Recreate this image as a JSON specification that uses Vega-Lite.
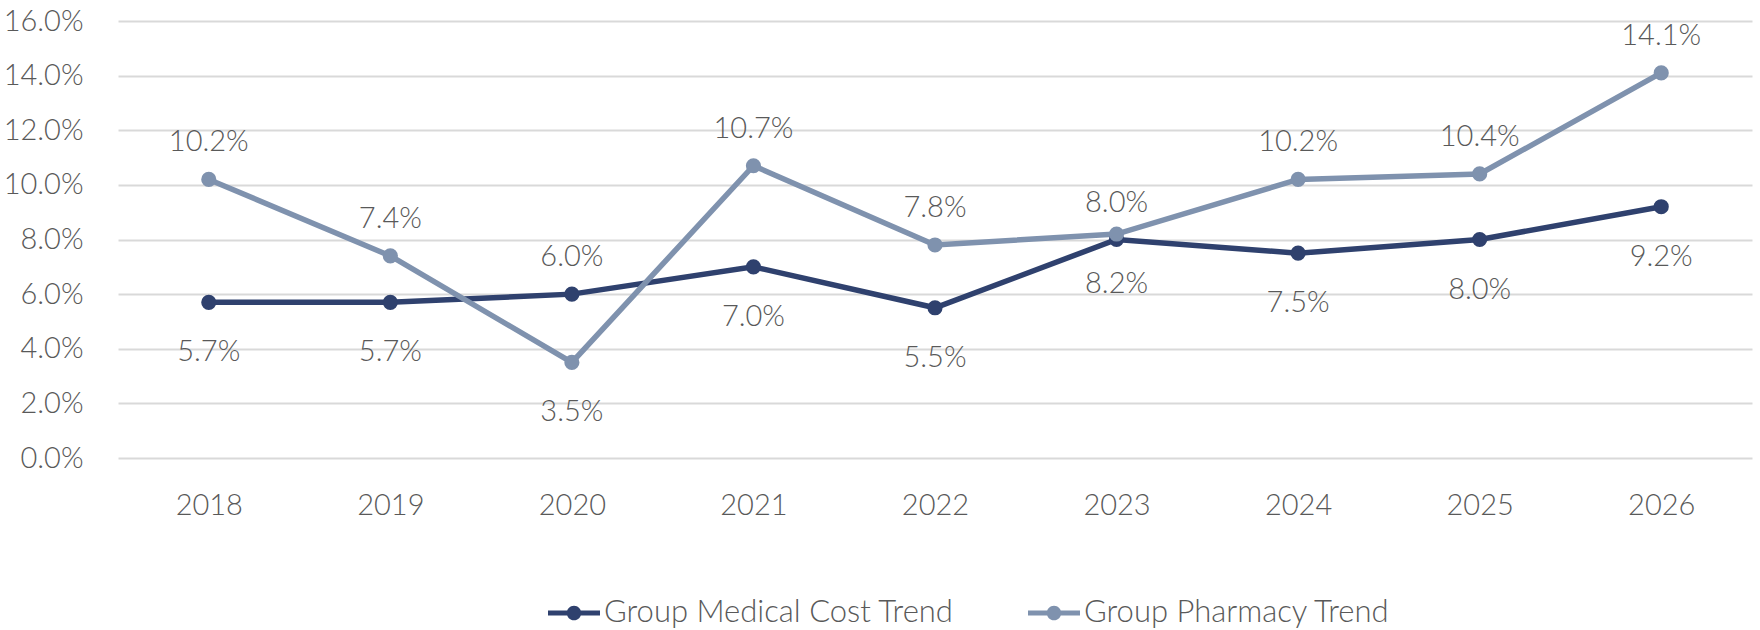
{
  "$schema": "https://vega.github.io/schema/vega-lite/v6.json",
  "width": 1634,
  "height": 437,
  "autosize": {"type": "none"},
  "padding": {"left": 118, "top": 21, "right": 8, "bottom": 172},
  "background": "white",
  "config": {
    "view": {"stroke": null},
    "font": "Lato",
    "axis": {"labelFont": "Lato", "labelFontWeight": 300, "labelColor": "#595959", "labelFontSize": 29},
    "legend": {"labelFont": "Lato", "labelFontWeight": 300}
  },
  "data": {
    "values": [
      {"year": "2018", "series": "Group Medical Cost Trend", "value": 0.057},
      {"year": "2019", "series": "Group Medical Cost Trend", "value": 0.057},
      {"year": "2020", "series": "Group Medical Cost Trend", "value": 0.060},
      {"year": "2021", "series": "Group Medical Cost Trend", "value": 0.070},
      {"year": "2022", "series": "Group Medical Cost Trend", "value": 0.055},
      {"year": "2023", "series": "Group Medical Cost Trend", "value": 0.080},
      {"year": "2024", "series": "Group Medical Cost Trend", "value": 0.075},
      {"year": "2025", "series": "Group Medical Cost Trend", "value": 0.080},
      {"year": "2026", "series": "Group Medical Cost Trend", "value": 0.092},
      {"year": "2018", "series": "Group Pharmacy Trend", "value": 0.102},
      {"year": "2019", "series": "Group Pharmacy Trend", "value": 0.074},
      {"year": "2020", "series": "Group Pharmacy Trend", "value": 0.035},
      {"year": "2021", "series": "Group Pharmacy Trend", "value": 0.107},
      {"year": "2022", "series": "Group Pharmacy Trend", "value": 0.078},
      {"year": "2023", "series": "Group Pharmacy Trend", "value": 0.082},
      {"year": "2024", "series": "Group Pharmacy Trend", "value": 0.102},
      {"year": "2025", "series": "Group Pharmacy Trend", "value": 0.104},
      {"year": "2026", "series": "Group Pharmacy Trend", "value": 0.141}
    ]
  },
  "encoding": {
    "x": {
      "field": "year", "type": "ordinal",
      "scale": {"type": "point", "padding": 0.5},
      "axis": {"title": null, "labelAngle": 0, "domain": false, "ticks": false, "grid": false, "labelPadding": 33}
    },
    "y": {
      "field": "value", "type": "quantitative",
      "scale": {"domain": [0, 0.16], "nice": false},
      "axis": {"title": null, "format": ".1%", "values": [0, 0.02, 0.04, 0.06, 0.08, 0.1, 0.12, 0.14, 0.16], "domain": false, "ticks": false, "grid": true, "gridColor": "#D9D9D9", "gridWidth": 2, "labelPadding": 35}
    },
    "color": {
      "field": "series", "type": "nominal",
      "scale": {"domain": ["Group Medical Cost Trend", "Group Pharmacy Trend"], "range": ["#2F416E", "#7F92AE"]},
      "legend": {
        "title": null, "orient": "none", "direction": "horizontal",
        "legendX": 430, "legendY": 566,
        "symbolType": "M-1,-0.1 H1 V0.1 H-1 Z M0.28,0 A0.28,0.28 0 1,1 -0.28,0 A0.28,0.28 0 1,1 0.28,0 Z",
        "symbolSize": 2704, "symbolStrokeWidth": 0, "symbolOpacity": 1,
        "labelFontSize": 31, "labelColor": "#595959", "labelOffset": 4, "columnPadding": 74, "labelLimit": 0
      }
    }
  },
  "layer": [
    {"mark": {"type": "line", "strokeWidth": 5.5}},
    {"mark": {"type": "point", "filled": true, "size": 230, "opacity": 1}},
    {
      "transform": [{"filter": "(datum.series == 'Group Pharmacy Trend' && datum.year != '2020' && datum.year != '2023') || (datum.series == 'Group Medical Cost Trend' && (datum.year == '2020' || datum.year == '2023'))"}],
      "mark": {"type": "text", "dy": -37, "fontSize": 29, "fontWeight": 300},
      "encoding": {"text": {"field": "value", "format": ".1%"}, "color": {"value": "#595959"}}
    },
    {
      "transform": [{"filter": "!((datum.series == 'Group Pharmacy Trend' && datum.year != '2020' && datum.year != '2023') || (datum.series == 'Group Medical Cost Trend' && (datum.year == '2020' || datum.year == '2023')))"}],
      "mark": {"type": "text", "dy": 50, "fontSize": 29, "fontWeight": 300},
      "encoding": {"text": {"field": "value", "format": ".1%"}, "color": {"value": "#595959"}}
    }
  ]
}
